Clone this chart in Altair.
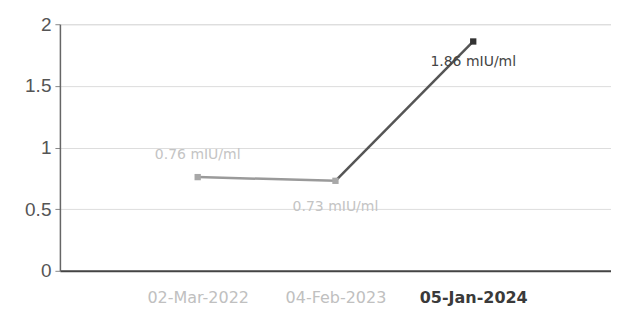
import altair as alt
import pandas as pd

dates = ["02-Mar-2022", "04-Feb-2023", "05-Jan-2024"]
values = [0.76, 0.73, 1.86]
labels = ["0.76 mIU/ml", "0.73 mIU/ml", "1.86 mIU/ml"]
seg_color = ["#a8a8a8", "#a8a8a8", "#333333"]

df = pd.DataFrame({"date": dates, "value": values, "label": labels, "c": seg_color})

FONT = "Liberation Sans"
LFONT = "DejaVu Sans"
xenc = alt.X("date:N", sort=dates,
             scale=alt.Scale(type="point", padding=1),
             axis=alt.Axis(title=None, labelAngle=0, ticks=False, grid=False,
                           domainColor="#444", domainWidth=2,
                           labelFontSize=16, labelFont=LFONT, labelPadding=19,
                           labelColor={"expr": "datum.label == '05-Jan-2024' ? '#3a3a3a' : '#c0c0c0'"},
                           labelFontWeight={"expr": "datum.label == '05-Jan-2024' ? 'bold' : 'normal'"}))
yenc = alt.Y("value:Q", scale=alt.Scale(domain=[0, 2]),
             axis=alt.Axis(title=None, values=[0, 0.5, 1, 1.5, 2], format="~g",
                           labelFontSize=19, labelFont=FONT, labelColor="#555",
                           domainColor="#666", domainWidth=1.5, tickColor="#888",
                           tickSize=5, labelPadding=4,
                           gridColor="#dddddd", gridWidth=1))

base = alt.Chart(df)

seg1 = base.transform_filter(alt.FieldOneOfPredicate(field="date", oneOf=dates[:2])).mark_line(
    color="#9a9a9a", strokeWidth=2.5).encode(x=xenc, y=yenc)
seg2 = base.transform_filter(alt.FieldOneOfPredicate(field="date", oneOf=dates[1:])).mark_line(
    color="#555555", strokeWidth=2.5).encode(x=xenc, y=yenc)
pts = base.mark_square(size=40, opacity=1).encode(
    x=xenc, y=yenc, color=alt.Color("c:N", scale=None))

t1 = base.transform_filter(alt.datum.date == dates[0]).mark_text(
    dx=0, dy=-22, fontSize=14, font=LFONT, color="#c4c4c4").encode(x=xenc, y=yenc, text="label:N")
t2 = base.transform_filter(alt.datum.date == dates[1]).mark_text(
    dx=0, dy=26, fontSize=14, font=LFONT, color="#c4c4c4").encode(x=xenc, y=yenc, text="label:N")
t3 = base.transform_filter(alt.datum.date == dates[2]).mark_text(
    dx=0, dy=21, fontSize=14, font=LFONT, color="#444").encode(x=xenc, y=yenc, text="label:N")

chart = alt.layer(seg1, seg2, pts, t1, t2, t3).properties(
    width=552, height=247,
    autosize=alt.AutoSizeParams(type="none"),
    padding={"left": 52, "top": 16, "right": 0, "bottom": 40},
).configure_view(stroke=None).configure(background="white")

chart.save("out.html", embed_options={"renderer": "svg", "actions": False})
